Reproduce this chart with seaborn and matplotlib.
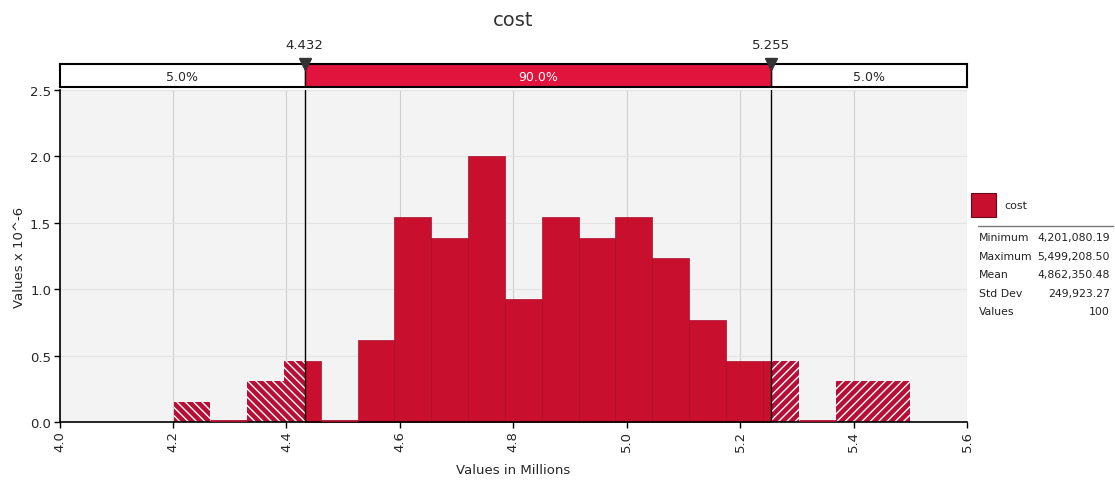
import numpy as np
import pandas as pd
import matplotlib
matplotlib.use("Agg")
import matplotlib.pyplot as plt
import seaborn as sns
from matplotlib.patches import Rectangle

# ---------------- data ----------------
series_name = "cost"
data_min = 4.20108019      # millions
data_max = 5.49920850      # millions
n_bins = 20
# counts per bin (100 iterations)
bin_counts = [1, 0, 2, 3, 0, 4, 10, 9, 13, 6, 10, 9, 10, 8, 5, 3, 3, 0, 2, 2]
p_low = 4.432
p_high = 5.255
band_labels = ["5.0%", "90.0%", "5.0%"]
stat_names = ["Minimum", "Maximum", "Mean", "Std Dev", "Values"]
stat_values = ["4,201,080.19", "5,499,208.50", "4,862,350.48", "249,923.27", "100"]
x_ticks = [4.0, 4.2, 4.4, 4.6, 4.8, 5.0, 5.2, 5.4, 5.6]
y_ticks = [0.0, 0.5, 1.0, 1.5, 2.0, 2.5]

bin_width = (data_max - data_min) / n_bins
bin_centers = [data_min + (i + 0.5) * bin_width for i in range(n_bins)]
df = pd.DataFrame({"value": bin_centers, "count": bin_counts})

# ---------------- style ----------------
sns.set_theme(style="white")
plt.rcParams["font.family"] = ["DejaVu Sans"]
plt.rcParams["hatch.color"] = "white"
plt.rcParams["hatch.linewidth"] = 1.0

W, H = 1115, 485
fig = plt.figure(figsize=(W / 100, H / 100), dpi=100)
fig.patch.set_facecolor("white")

def fx(px):
    return px / W

def fy(py):
    return 1 - py / H

ax_l, ax_r, ax_t, ax_b = 59.5, 967, 91, 423
ax = fig.add_axes([fx(ax_l), fy(ax_b), fx(ax_r) - fx(ax_l), fy(ax_t) - fy(ax_b)])
ax.set_facecolor("#f3f3f3")

BAR = "#c8102e"
BAR_EDGE = "#a80d2b"
HATCH_FACE = "#b80e35"

common = dict(data=df, x="value", weights="count", bins=n_bins,
              binrange=(data_min, data_max), stat="density", ax=ax)

# solid part (between the percentiles)
n0 = len(ax.patches)
sns.histplot(color=BAR, edgecolor=BAR_EDGE, linewidth=0.5, alpha=1, **common)
mid_clip = Rectangle((p_low, -1), p_high - p_low, 10, transform=ax.transData)
for p in ax.patches[n0:]:
    p.set_clip_path(mid_clip)

# hatched left tail
n1 = len(ax.patches)
sns.histplot(color=HATCH_FACE, edgecolor="white", linewidth=0, alpha=1,
             hatch="\\\\\\\\", **common)
left_clip = Rectangle((3.0, -1), p_low - 3.0, 10, transform=ax.transData)
for p in ax.patches[n1:]:
    p.set_clip_path(left_clip)
    p.set_facecolor(HATCH_FACE)

# hatched right tail
n2 = len(ax.patches)
sns.histplot(color=HATCH_FACE, edgecolor="white", linewidth=0, alpha=1,
             hatch="////", **common)
right_clip = Rectangle((p_high, -1), 10, 10, transform=ax.transData)
for p in ax.patches[n2:]:
    p.set_clip_path(right_clip)
    p.set_facecolor(HATCH_FACE)

# zero-count baseline marks
for c, v in zip(bin_centers, bin_counts):
    if v == 0:
        ax.plot([c - bin_width / 2, c + bin_width / 2], [0.01, 0.01],
                color=BAR_EDGE, lw=2, solid_capstyle="butt", zorder=3)

ax.set_xlim(4.0, 5.6)
ax.set_ylim(0, 2.5)
ax.set_xticks(x_ticks)
ax.set_xticklabels([f"{t:.1f}" for t in x_ticks], rotation=90, fontsize=9.5)
ax.set_yticks(y_ticks)
ax.set_yticklabels([f"{t:.1f}" for t in y_ticks], fontsize=9.5)
ax.grid(True, axis="x", color="#cfcfcf", lw=0.8)
ax.grid(True, axis="y", color="#e2e2e2", lw=0.8)
ax.set_axisbelow(True)
for s in ["top", "right"]:
    ax.spines[s].set_visible(False)
for s in ["left", "bottom"]:
    ax.spines[s].set_color("black")
    ax.spines[s].set_linewidth(1.2)
ax.tick_params(axis="both", which="both", direction="out", length=4,
               width=1, color="black", bottom=True, left=True, pad=2)
ax.set_xlabel("Values in Millions", fontsize=9.5, labelpad=8)
ax.set_ylabel("Values x 10^-6", fontsize=9.5, labelpad=3)

for v in (p_low, p_high):
    ax.axvline(v, color="black", lw=1, zorder=5)

# ---------------- percentile band ----------------
band_t, band_b = 65, 88
bax = fig.add_axes([fx(ax_l), fy(band_b), fx(ax_r) - fx(ax_l), fy(band_t) - fy(band_b)])
bax.set_xlim(4.0, 5.6)
bax.set_ylim(0, 1)
bax.axvspan(p_low, p_high, color="#e0143c", zorder=1)
bax.text((4.0 + p_low) / 2, 0.45, band_labels[0], ha="center", va="center", fontsize=9)
bax.text((p_low + p_high) / 2, 0.45, band_labels[1], ha="center", va="center",
         fontsize=9, color="white")
bax.text((p_high + 5.6) / 2, 0.45, band_labels[2], ha="center", va="center", fontsize=9)
for v in (p_low, p_high):
    bax.axvline(v, color="black", lw=1, zorder=3)
    bax.plot([v], [1.0], marker="v", color="#333333", markersize=8,
             clip_on=False, zorder=4)
    bax.text(v, 1.55, f"{v:.3f}", ha="center", va="bottom", fontsize=9.5,
             transform=bax.transData)
bax.set_xticks([])
bax.set_yticks([])
for s in bax.spines.values():
    s.set_visible(True)
    s.set_color("black")
    s.set_linewidth(1.5)

# ---------------- title ----------------
fig.text(fx((ax_l + ax_r) / 2), fy(20), series_name, ha="center", va="center",
         fontsize=14, color="#333333")

# ---------------- legend / stats ----------------
fig.patches.append(Rectangle((fx(971), fy(218)), fx(996) - fx(971), fy(194) - fy(218),
                             transform=fig.transFigure, facecolor=BAR,
                             edgecolor="#6a0718", lw=0.8))
fig.text(fx(1004), fy(206), series_name, ha="left", va="center", fontsize=8)
fig.add_artist(plt.Line2D([fx(978), fx(1113)], [fy(227), fy(227)],
                          transform=fig.transFigure, color="#777777", lw=1))
for i, (n, v) in enumerate(zip(stat_names, stat_values)):
    yy = fy(238 + i * 18.6)
    fig.text(fx(979), yy, n, ha="left", va="center", fontsize=7.8, color="#222222")
    fig.text(fx(1110), yy, v, ha="right", va="center", fontsize=7.8, color="#222222")

fig.savefig("out.png", dpi=100)
